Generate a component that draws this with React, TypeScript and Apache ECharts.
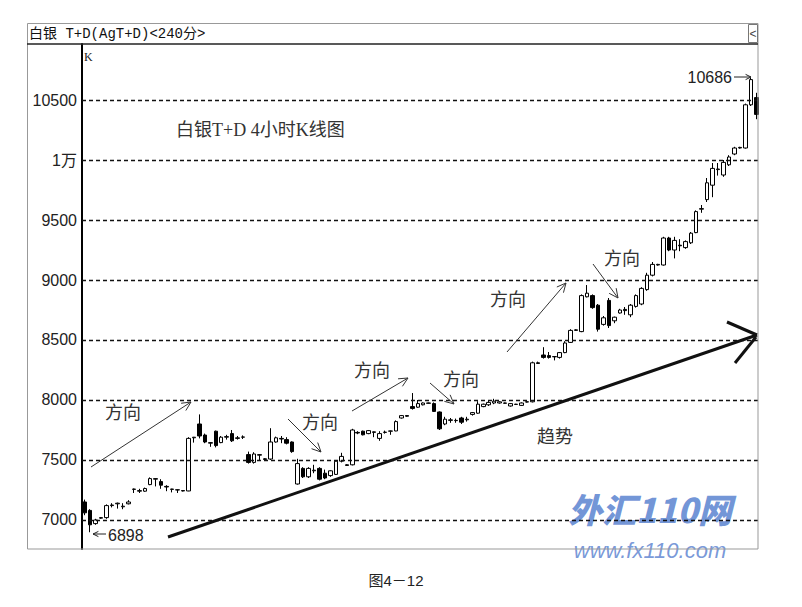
import React, { useEffect, useRef } from "react";
import * as echarts from "echarts";

// OHLC (index = 4-hour bar)
const opens = [
  7150, 7080, 6970, 7015, 7020, 7120, 7135, 7110, 7135, 7255,
  7240, 7240, 7295, 7340, 7320, 7280, 7255, 7250, 7245, 7242,
  7685, 7800, 7708, 7640, 7740, 7645, 7690, 7720, 7680, 7690,
  7545, 7480, 7540, 7510, 7508, 7650, 7680, 7670, 7650, 7300,
  7430, 7360, 7410, 7430, 7390, 7370, 7380, 7490, 7460, 7460,
  7730, 7740, 7720, 7730, 7680, 7730, 7740, 7742, 7850, 7870,
  7945, 7940, 7960, 7975, 7970, 7900, 7800, 7830, 7830, 7850,
  7835, 7880, 7890, 7945, 7960, 7975, 7975, 7975, 7950, 7965,
  7955, 7985, 7985, 8310, 8375, 8370, 8360, 8355, 8395, 8480,
  8580, 8570, 8860, 8870, 8790, 8630, 8830, 8660, 8725, 8755,
  8710, 8780, 8800, 8920, 9040, 9125, 9125, 9350, 9250, 9290,
  9270, 9310, 9395, 9590, 9670, 9790, 9920, 9875, 9960, 10050,
  10100, 10100, 10460, 10520,
];
const closes = [
  7060, 6960, 7000, 7020, 7120, 7125, 7140, 7115, 7150, 7258,
  7245, 7262, 7345, 7345, 7290, 7275, 7258, 7252, 7242, 7680,
  7690, 7700, 7650, 7645, 7620, 7690, 7695, 7660, 7685, 7692,
  7480, 7550, 7545, 7505, 7650, 7685, 7675, 7640, 7570, 7470,
  7360, 7430, 7415, 7340, 7350, 7410, 7490, 7530, 7455, 7750,
  7725, 7710, 7745, 7735, 7720, 7732, 7742, 7820, 7870, 7865,
  7930, 7970, 7975, 7973, 7905, 7760, 7840, 7835, 7828, 7815,
  7840, 7895, 7965, 7965, 7980, 7990, 7985, 7973, 7970, 7963,
  7975, 7983, 8310, 8305, 8355, 8355, 8362, 8395, 8475, 8580,
  8585, 8870, 8890, 8770, 8590, 8685, 8620, 8690, 8750, 8745,
  8790, 8870, 8930, 9040, 9130, 9130, 9350, 9250, 9330, 9285,
  9320, 9390, 9570, 9595, 9810, 9930, 9925, 9980, 10025, 10100,
  10105, 10460, 10670, 10380,
];
const lows = [
  7040, 6898, 6960, 7010, 7010, 7105, 7095, 7090, 7130, 7225,
  7225, 7235, 7290, 7280, 7260, 7240, 7230, 7225, 7238, 7240,
  7645, 7680, 7640, 7610, 7605, 7640, 7670, 7650, 7670, 7675,
  7470, 7470, 7500, 7500, 7500, 7645, 7640, 7630, 7560, 7295,
  7350, 7350, 7390, 7330, 7340, 7360, 7375, 7480, 7450, 7455,
  7715, 7705, 7715, 7690, 7660, 7720, 7710, 7740, 7845, 7860,
  7920, 7935, 7955, 7970, 7900, 7750, 7790, 7810, 7810, 7800,
  7820, 7870, 7885, 7940, 7950, 7965, 7970, 7970, 7945, 7960,
  7950, 7980, 7980, 8300, 8345, 8345, 8330, 8345, 8390, 8475,
  8575, 8565, 8855, 8760, 8570, 8620, 8600, 8640, 8720, 8710,
  8690, 8770, 8790, 8910, 9030, 9120, 9120, 9240, 9180, 9240,
  9260, 9300, 9390, 9560, 9650, 9690, 9870, 9860, 9950, 10040,
  10095, 10095, 10450, 10340,
];
const highs = [
  7170, 7090, 7010, 7025, 7130, 7140, 7145, 7140, 7165, 7262,
  7260, 7270, 7355, 7348, 7340, 7290, 7260, 7255, 7248, 7690,
  7692, 7880, 7720, 7648, 7745, 7700, 7710, 7750, 7700, 7705,
  7570, 7565, 7548, 7515, 7765, 7695, 7700, 7690, 7655, 7510,
  7440, 7440, 7460, 7440, 7420, 7415, 7495, 7560, 7465, 7760,
  7740, 7745, 7750, 7738, 7740, 7745, 7745, 7830, 7875, 7875,
  8058, 8000, 7980, 7978, 7980, 7905, 7860, 7850, 7845, 7860,
  7860, 7900, 7990, 7970, 7995, 8010, 7990, 7978, 7975, 7968,
  7980, 7988, 8320, 8320, 8440, 8400, 8365, 8400, 8490, 8590,
  8590, 8880, 8958, 8880, 8800, 8700, 8850, 8695, 8760, 8775,
  8800, 8880, 8940, 9060, 9150, 9135, 9360, 9360, 9360, 9340,
  9330, 9400, 9580, 9625, 9850, 9975, 9975, 10000, 10040, 10110,
  10110, 10470, 10686, 10560,
];
const gridValues = [7000, 7500, 8000, 8500, 9000, 9500, 10000, 10500];
const tickLabels = ["7000", "7500", "8000", "8500", "9000", "9500", "1万", "10500"];
const categories = opens.map((_, i) => String(i + 1));

const SERIF = '"Liberation Serif","Noto Sans CJK SC",serif';
const SANS = '"Liberation Sans","Noto Sans CJK SC",sans-serif';

function arrow(x1: number, y1: number, x2: number, y2: number, head = 10, w = 1, color = "#333", spread = 0.45) {
  const ang = Math.atan2(y2 - y1, x2 - x1);
  const a1 = ang + Math.PI - spread;
  const a2 = ang + Math.PI + spread;
  return [
    { type: "line", z: 50, shape: { x1, y1, x2, y2 }, style: { stroke: color, lineWidth: w } },
    {
      type: "polyline",
      z: 50,
      shape: {
        points: [
          [x2 + head * Math.cos(a1), y2 + head * Math.sin(a1)],
          [x2, y2],
          [x2 + head * Math.cos(a2), y2 + head * Math.sin(a2)],
        ],
      },
      style: { stroke: color, lineWidth: w, fill: "none" },
    },
  ];
}

function label(text: string, x: number, y: number, size = 18, color = "#333", font = SERIF, align = "left") {
  return {
    type: "text",
    z: 50,
    x,
    y,
    style: { text, fill: color, font: `${size}px ${font}`, textAlign: align, textVerticalAlign: "middle" },
  };
}

export default function App() {
  const ref = useRef<HTMLDivElement>(null);
  useEffect(() => {
    if (!ref.current) return;
    const chart = echarts.init(ref.current, undefined, { renderer: "svg" });
    const data = opens.map((o, i) => [o, closes[i], lows[i], highs[i]]);
    const graphic: any[] = [
      { type: "rect", z: 40, shape: { x: 27.5, y: 23.5, width: 730.5, height: 525.5 }, style: { fill: "none", stroke: "#999", lineWidth: 1 } },
      { type: "line", z: 40, shape: { x1: 27, y1: 44, x2: 758, y2: 44 }, style: { stroke: "#222", lineWidth: 1.5 } },
      label("白银 T+D(AgT+D)<240分>", 29, 34, 14, "#111", '"Liberation Mono","Noto Sans CJK SC",monospace'),
      { type: "rect", z: 40, shape: { x: 748.5, y: 24.5, width: 9, height: 18 }, style: { fill: "#fff", stroke: "#777", lineWidth: 1 } },
      label("<", 753, 34, 12, "#444", SANS, "center"),
      label("K", 84, 57, 12, "#222", SERIF),
      label("白银T+D 4小时K线图", 176, 130, 18),
      label("方向", 105, 413),
      label("方向", 302, 423),
      label("方向", 354, 371),
      label("方向", 443, 380),
      label("方向", 490, 300),
      label("方向", 604, 259),
      label("趋势", 537, 437),
      ...arrow(91, 467, 191, 402),
      ...arrow(288, 419, 321, 452),
      ...arrow(352, 411, 408, 378),
      ...arrow(430, 383, 454, 404),
      ...arrow(507, 352, 566, 283),
      ...arrow(593, 264, 618, 298),
      { type: "line", z: 50, shape: { x1: 168, y1: 537, x2: 757, y2: 335 }, style: { stroke: "#111", lineWidth: 3 } },
      { type: "line", z: 50, shape: { x1: 727, y1: 322, x2: 757, y2: 335 }, style: { stroke: "#111", lineWidth: 3 } },
      { type: "line", z: 50, shape: { x1: 735, y1: 363, x2: 756, y2: 337 }, style: { stroke: "#111", lineWidth: 3 } },
      ...arrow(106, 534, 93, 534, 6, 1, "#222"),
      label("6898", 108, 535, 16, "#222", SANS),
      label("10686", 732, 77, 16, "#222", SANS, "right"),
      ...arrow(734, 77, 751, 77, 6, 1, "#222"),
      {
        type: "text",
        z: 1,
        x: 650,
        y: 508,
        style: {
          text: "外汇110网",
          fill: "rgba(95,135,210,0.88)",
          font: `italic 900 34px "Noto Sans CJK SC",sans-serif`,
          textAlign: "center",
          textVerticalAlign: "middle",
        },
      },
      {
        type: "text",
        z: 1,
        x: 650,
        y: 550,
        style: {
          text: "www.fx110.com",
          fill: "rgba(105,140,212,0.9)",
          font: `italic 22px ${SANS}`,
          textAlign: "center",
          textVerticalAlign: "middle",
        },
      },
      label("图4－12", 396, 580, 15, "#222", SANS, "center"),
    ];
    chart.setOption({
      animation: false,
      backgroundColor: "#fff",
      grid: { left: 82, top: 44, width: 677, height: 505, containLabel: false },
      xAxis: {
        type: "category",
        data: categories,
        boundaryGap: true,
        axisLine: { show: false },
        axisTick: { show: false },
        axisLabel: { show: false },
        splitLine: { show: false },
      },
      yAxis: {
        type: "value",
        min: 6758.33,
        max: 10966.67,
        axisLine: { show: true, lineStyle: { color: "#000", width: 2 } },
        axisTick: { show: false },
        splitLine: { show: false },
        axisLabel: {
          customValues: gridValues,
          formatter: (v: number) => tickLabels[gridValues.indexOf(v)] ?? "",
          color: "#222",
          fontSize: 16,
          fontFamily: SANS,
          margin: 5,
        },
      },
      series: [
        {
          type: "candlestick",
          data,
          barWidth: 4,
          itemStyle: { color: "#fff", color0: "#000", borderColor: "#000", borderColor0: "#000", borderWidth: 1 },
          markLine: {
            silent: true,
            symbol: ["none", "none"],
            label: { show: false },
            lineStyle: { color: "#111", type: [4, 3], width: 1.4 },
            data: gridValues.map((v) => ({ yAxis: v })),
          },
        },
      ],
      graphic,
    });
    return () => chart.dispose();
  }, []);
  return (
    <div
      ref={ref}
      style={{ position: "fixed", left: 0, top: 0, width: 802, height: 607, background: "#fff" }}
    />
  );
}
